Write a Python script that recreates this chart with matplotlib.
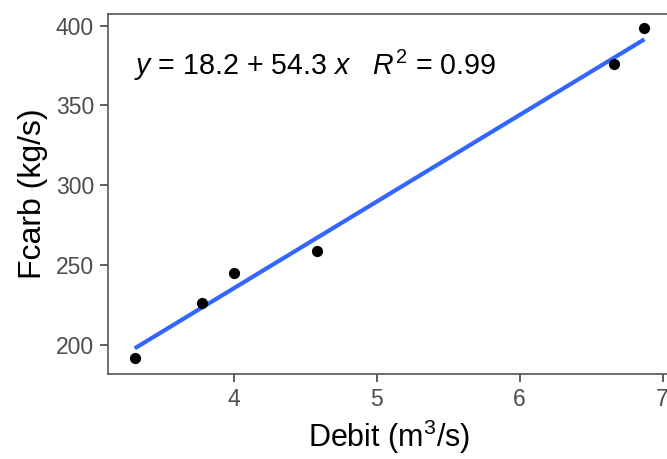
import matplotlib
matplotlib.use("Agg")
import matplotlib.pyplot as plt
import numpy as np

debit = [3.308, 3.777, 4.0, 4.58, 6.657, 6.873]
fcarb = [191.6, 226.5, 245.3, 259.1, 376.0, 398.5]
intercept = 18.2
slope = 54.3
x_ticks = [4, 5, 6, 7]
y_ticks = [200, 250, 300, 350, 400]
eq_label = r'$\mathit{y}$ = 18.2 + 54.3 $\mathit{x}$   $\mathit{R}^2$ = 0.99'

plt.rcParams['font.family'] = ['Liberation Sans', 'DejaVu Sans']
plt.rcParams['mathtext.fontset'] = 'custom'
plt.rcParams['mathtext.rm'] = 'Liberation Sans'
plt.rcParams['mathtext.it'] = 'Liberation Sans:italic'

fig = plt.figure(figsize=(6.67, 4.59), dpi=100)
ax = fig.add_axes([108/667, (459-374)/459, (671-108)/667, (374-14)/459])

xs = np.array([min(debit), max(debit)])
ax.plot(xs, intercept + slope * xs, color='#3366FF', lw=3.0, solid_capstyle='butt', zorder=2)
ax.scatter(debit, fcarb, s=65, color='black', zorder=3, linewidths=0)

ax.set_xlim(3.121, 7.059)
ax.set_ylim(181.75, 407.25)
ax.set_xticks(x_ticks)
ax.set_yticks(y_ticks)
ax.tick_params(axis='both', length=6, width=1.1, color='#333333', labelcolor='#4D4D4D',
               labelsize=16.5, pad=4)
for s in ax.spines.values():
    s.set_color('#555555')
    s.set_linewidth(1.2)

ax.set_xlabel(r'Debit (m$^3$/s)', fontsize=22, color='black', labelpad=5)
ax.set_ylabel('Fcarb (kg/s)', fontsize=23, color='black', labelpad=6)

ax.text(3.302, 375, eq_label, fontsize=20.6, ha='left', va='center', color='black')

fig.savefig('out.png', dpi=100)
